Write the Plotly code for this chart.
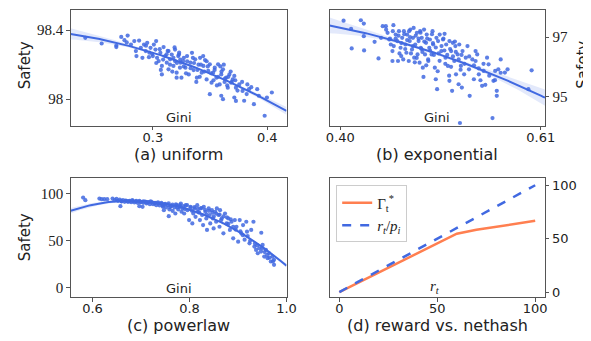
import numpy as np
import plotly.graph_objects as go

# ---------------- data ----------------
uniform_pts = [
    (0.2410, 98.356), (0.2553, 98.323), (0.2681, 98.311), (0.2681, 98.302), (0.2724, 98.361),
    (0.2752, 98.342), (0.2780, 98.369), (0.2772, 98.329), (0.2809, 98.317), (0.2838, 98.337),
    (0.2852, 98.279), (0.2857, 98.250), (0.2880, 98.340), (0.2895, 98.298), (0.2909, 98.240),
    (0.2923, 98.317), (0.2938, 98.279), (0.2951, 98.327), (0.2966, 98.244), (0.2980, 98.298),
    (0.2994, 98.263), (0.3009, 98.317), (0.3023, 98.288), (0.3029, 98.337), (0.3037, 98.240),
    (0.3051, 98.221), (0.3066, 98.269), (0.3079, 98.193), (0.3079, 98.144), (0.3094, 98.302),
    (0.3108, 98.250), (0.3122, 98.212), (0.3137, 98.279), (0.3137, 98.173), (0.3151, 98.231),
    (0.3165, 98.259), (0.3180, 98.193), (0.3194, 98.288), (0.3194, 98.221), (0.3208, 98.154),
    (0.3222, 98.250), (0.3237, 98.183), (0.3250, 98.125), (0.3265, 98.221), (0.3208, 98.125),
    (0.3228, 98.259), (0.3242, 98.212), (0.3271, 98.240), (0.3285, 98.183), (0.3299, 98.250),
    (0.3314, 98.144), (0.3328, 98.212), (0.3342, 98.269), (0.3356, 98.169), (0.3370, 98.231),
    (0.3385, 98.125), (0.3399, 98.200), (0.3413, 98.240), (0.3427, 98.154), (0.3442, 98.193),
    (0.3456, 98.227), (0.3470, 98.115), (0.3484, 98.164), (0.3498, 98.202), (0.3513, 98.096),
    (0.3498, 98.029), (0.3527, 98.154), (0.3541, 98.183), (0.3556, 98.125), (0.3570, 98.202),
    (0.3584, 98.086), (0.3598, 98.144), (0.3613, 98.173), (0.3627, 98.100), (0.3641, 98.125),
    (0.3655, 98.067), (0.3669, 98.144), (0.3684, 98.096), (0.3698, 98.115), (0.3712, 98.135),
    (0.3726, 98.067), (0.3712, 98.010), (0.3726, 97.990), (0.3755, 98.086), (0.3784, 98.048),
    (0.3798, 97.991), (0.3826, 98.086), (0.3840, 98.058), (0.3883, 97.971), (0.3912, 98.058),
    (0.3926, 98.020), (0.3997, 98.010), (0.4040, 98.039), (0.3977, 97.904), (0.3598, 98.020),
    (0.3613, 98.000),
    (0.300, 98.25), (0.303, 98.21), (0.306, 98.29), (0.309, 98.23), (0.312, 98.26),
    (0.315, 98.20), (0.318, 98.24), (0.321, 98.21), (0.324, 98.23), (0.327, 98.19),
    (0.330, 98.22), (0.333, 98.18), (0.336, 98.21), (0.339, 98.17), (0.342, 98.20),
    (0.345, 98.16), (0.348, 98.19), (0.351, 98.15), (0.354, 98.17), (0.357, 98.13),
    (0.360, 98.16), (0.363, 98.12), (0.366, 98.13), (0.369, 98.10), (0.372, 98.11),
    (0.313, 98.28), (0.317, 98.16), (0.323, 98.27), (0.329, 98.15), (0.335, 98.24),
    (0.341, 98.13), (0.347, 98.22), (0.353, 98.11), (0.359, 98.19), (0.365, 98.08),
    (0.297, 98.27), (0.294, 98.31), (0.307, 98.17), (0.319, 98.30), (0.344, 98.25),
    (0.338, 98.10), (0.356, 98.08), (0.362, 98.20), (0.368, 98.16), (0.374, 98.05),
    (0.378, 98.10), (0.382, 98.03), (0.386, 98.07),
]

exponential_pts = [
    (0.4034, 97.556), (0.4113, 97.278), (0.4215, 97.569), (0.4246, 97.456), (0.4246, 97.033),
    (0.4119, 96.618), (0.4249, 96.551), (0.4359, 96.843), (0.4400, 96.283), (0.4426, 96.977),
    (0.4444, 97.369), (0.4477, 97.369), (0.4495, 97.144), (0.4512, 96.920), (0.4529, 96.752),
    (0.4556, 97.402), (0.4546, 96.531), (0.4546, 96.196), (0.4580, 97.087), (0.4597, 96.866),
    (0.4604, 96.196), (0.4614, 97.201), (0.4631, 96.642), (0.4638, 96.363), (0.4648, 96.977),
    (0.4659, 96.250), (0.4666, 97.201), (0.4682, 96.752), (0.4692, 96.474), (0.4700, 97.087),
    (0.4717, 96.196), (0.4727, 96.866), (0.4733, 97.255), (0.4751, 96.585), (0.4761, 96.977),
    (0.4768, 97.312), (0.4774, 96.307), (0.4785, 96.752), (0.4802, 97.144), (0.4809, 96.418),
    (0.4820, 96.866), (0.4830, 96.139), (0.4836, 97.201), (0.4843, 96.642), (0.4853, 96.977),
    (0.4864, 95.972), (0.4871, 95.660), (0.4877, 97.255), (0.4887, 96.418), (0.4898, 96.809),
    (0.4905, 97.087), (0.4922, 96.196), (0.4932, 96.642), (0.4938, 96.920), (0.4956, 96.418),
    (0.4966, 97.201), (0.4973, 96.752), (0.4990, 95.972), (0.5000, 95.580), (0.5007, 96.977),
    (0.5014, 95.245), (0.5024, 96.866), (0.5041, 97.087), (0.5058, 96.531), (0.5076, 96.920),
    (0.5092, 97.111), (0.5102, 96.307), (0.5109, 96.752), (0.5127, 96.029), (0.5143, 96.866),
    (0.5143, 95.526), (0.5161, 96.531), (0.5171, 95.191), (0.5178, 96.809), (0.5194, 96.196),
    (0.5205, 96.698), (0.5212, 95.747), (0.5229, 96.418), (0.5239, 95.412), (0.5246, 96.752),
    (0.5263, 96.029), (0.5273, 95.301), (0.5280, 96.531), (0.5297, 95.747), (0.5314, 96.307),
    (0.5332, 96.698), (0.5348, 95.915), (0.5355, 95.023), (0.5383, 96.250), (0.5399, 95.580),
    (0.5417, 96.531), (0.5434, 96.418), (0.5451, 95.747), (0.5468, 95.546), (0.5485, 95.358),
    (0.5519, 95.392), (0.5537, 96.307), (0.5553, 96.082), (0.5502, 95.861), (0.5604, 95.526),
    (0.5622, 95.861), (0.5639, 95.191), (0.5639, 95.023), (0.5655, 95.915), (0.5680, 96.250),
    (0.5724, 95.804), (0.5752, 95.915), (0.5594, 94.273), (0.5253, 94.106), (0.6004, 95.881),
    (0.5970, 95.245), (0.5417, 96.196),
    (0.455, 97.20), (0.458, 96.95), (0.461, 97.05), (0.464, 96.80), (0.467, 97.10),
    (0.470, 96.90), (0.473, 97.00), (0.476, 96.70), (0.479, 97.05), (0.482, 96.95),
    (0.485, 96.60), (0.488, 96.85), (0.491, 96.95), (0.494, 96.55), (0.497, 96.80),
    (0.500, 96.65), (0.503, 96.45), (0.506, 96.70), (0.509, 96.55), (0.512, 96.40),
    (0.515, 96.60), (0.518, 96.35), (0.521, 96.50), (0.524, 96.25), (0.527, 96.40),
    (0.530, 96.10), (0.468, 96.60), (0.474, 96.45), (0.480, 96.30), (0.486, 96.50),
    (0.492, 96.25), (0.498, 96.40), (0.504, 96.20), (0.510, 96.10), (0.516, 96.00),
    (0.462, 96.45), (0.456, 96.70), (0.452, 96.95), (0.448, 97.25), (0.472, 97.20),
    (0.484, 97.15), (0.496, 97.10), (0.508, 96.95), (0.520, 96.85), (0.478, 96.15),
    (0.490, 96.05), (0.502, 95.85), (0.514, 95.70), (0.526, 95.90), (0.535, 96.35),
    (0.540, 96.05), (0.545, 95.95), (0.550, 96.10), (0.556, 95.70), (0.562, 95.55),
    (0.568, 95.80),
]

powerlaw_pts = [
    (0.5806, 96.1), (0.5852, 93.3), (0.6142, 95.0), (0.6190, 94.4), (0.6243, 94.4),
    (0.6304, 94.4), (0.6413, 95.0), (0.6459, 93.3), (0.6494, 94.7), (0.6526, 92.6),
    (0.6561, 94.0), (0.6575, 86.9), (0.6595, 92.3), (0.6627, 93.3), (0.6662, 91.6),
    (0.6696, 92.6), (0.6728, 91.6), (0.6763, 92.6), (0.6797, 91.2), (0.6830, 92.3),
    (0.6864, 90.9), (0.6898, 91.9), (0.6931, 90.5), (0.6965, 92.6), (0.6965, 86.9),
    (0.7000, 91.2), (0.7032, 86.2), (0.7046, 90.5), (0.7087, 91.9), (0.7113, 89.8),
    (0.7153, 91.2), (0.7182, 89.1), (0.7222, 91.2), (0.7248, 89.1), (0.7289, 90.5),
    (0.7315, 88.0), (0.7356, 89.8), (0.7384, 87.7), (0.7424, 89.5), (0.7451, 86.3),
    (0.7471, 82.7), (0.7491, 88.8), (0.7518, 85.5), (0.7558, 88.0), (0.7572, 76.3),
    (0.7586, 83.4), (0.7627, 86.9), (0.7653, 81.9), (0.7693, 85.5), (0.7708, 79.1),
    (0.7734, 88.0), (0.7768, 83.4), (0.7801, 86.3), (0.7835, 81.0),
    (0.7821, 89.8), (0.7855, 84.5), (0.7890, 79.1), (0.7922, 88.0), (0.7957, 82.7),
    (0.7991, 72.1), (0.8023, 86.3), (0.8058, 68.5), (0.8078, 79.1), (0.8104, 84.5),
    (0.8124, 75.6), (0.8159, 88.0), (0.8173, 81.0), (0.8214, 72.1), (0.8226, 84.5),
    (0.8260, 77.5), (0.8280, 66.8), (0.8294, 86.3), (0.8327, 81.0), (0.8347, 73.9),
    (0.8361, 61.6), (0.8396, 84.5), (0.8416, 77.5), (0.8428, 68.5), (0.8462, 82.7),
    (0.8483, 73.9), (0.8497, 63.2), (0.8529, 81.0), (0.8549, 70.3), (0.8564, 84.5),
    (0.8598, 77.5), (0.8618, 65.0), (0.8630, 82.7), (0.8665, 73.9), (0.8699, 58.0),
    (0.8732, 79.1), (0.8766, 68.5), (0.8800, 73.9), (0.8833, 61.6), (0.8867, 70.3),
    (0.8901, 52.6), (0.8934, 72.1), (0.8968, 65.0), (0.9003, 49.1), (0.9035, 72.1),
    (0.9069, 58.0), (0.9104, 66.8), (0.9136, 51.2), (0.9171, 70.3), (0.9185, 59.7),
    (0.9237, 47.3), (0.9272, 61.6), (0.9318, 70.3), (0.9338, 43.8), (0.9373, 40.3),
    (0.9407, 36.7), (0.9440, 42.0), (0.9474, 38.5), (0.9508, 45.6), (0.9541, 33.2),
    (0.9575, 40.3), (0.9610, 31.4), (0.9642, 36.7), (0.9676, 27.9), (0.9711, 33.2),
    (0.9743, 24.4), (0.9480, 58.6), (0.9743, 29.7),
    (0.660, 92.0), (0.668, 93.0), (0.675, 92.0), (0.682, 93.5), (0.690, 92.5),
    (0.698, 91.5), (0.705, 92.0), (0.712, 91.0), (0.720, 92.0), (0.728, 90.0),
    (0.735, 91.0), (0.742, 90.5), (0.750, 89.5), (0.757, 90.0), (0.765, 88.5),
    (0.772, 89.0), (0.780, 88.0), (0.787, 87.0), (0.795, 88.0), (0.802, 85.5),
    (0.810, 86.0), (0.817, 84.0), (0.825, 85.0), (0.832, 83.0), (0.840, 82.0),
    (0.847, 80.0), (0.855, 79.0), (0.862, 78.0), (0.870, 76.0), (0.877, 75.0),
    (0.885, 73.0), (0.745, 87.5), (0.760, 86.0), (0.775, 85.5), (0.790, 84.0),
    (0.805, 82.0), (0.820, 80.0), (0.835, 78.0), (0.850, 76.0), (0.865, 72.0),
    (0.880, 68.0), (0.895, 62.0), (0.910, 56.0), (0.925, 50.0), (0.940, 45.0),
    (0.955, 38.0), (0.965, 32.0), (0.972, 28.0), (0.950, 42.0), (0.960, 35.0),
    (0.935, 47.0), (0.920, 55.0), (0.905, 60.0), (0.890, 65.0),
]

reward = [0, 10, 20, 30, 40, 50, 60, 70, 80, 90, 100]
gamma_star = [0, 9.3, 18.4, 27.4, 36.4, 45.4, 54.6, 58.3, 61.3, 64.0, 66.7]
reward_over_p = [0, 10, 20, 30, 40, 50, 60, 70, 80, 90, 100]

subtitles = ["(a) uniform", "(b) exponential", "(c) powerlaw", "(d) reward vs. nethash"]

# ---------------- styling ----------------
BLUE = "#4169E1"
ORANGE = "#FF7F50"
SPINE = "#555555"
SANS = "DejaVu Sans"
SERIF = "Liberation Serif"
ORIG_N = 500  # approx number of points in the original cloud (for band width)

XD_L = [61 / 591, 281.7 / 591]
XD_R = [325.7 / 591, 546 / 591]
YD_T = [1 - 118.3 / 341, 1 - 1.7 / 341]
YD_B = [1 - 291 / 341, 1 - 171 / 341]

ranges_x = {"a": [0.2282, 0.4168], "b": [0.3887, 0.6144], "c": [0.5549, 1.0], "d": [-5, 105]}
ranges_y = {"a": [97.847, 98.519], "b": [94.018, 97.925], "c": [-10.3, 117.0], "d": [-4.9, 106.8]}


def fit_band(pts, xr):
    x = np.array([p[0] for p in pts])
    y = np.array([p[1] for p in pts])
    X = np.vstack([x ** 2, x, np.ones_like(x)]).T
    beta, *_ = np.linalg.lstsq(X, y, rcond=None)
    resid = y - X @ beta
    s2 = resid @ resid / (len(x) - 3)
    cov = s2 * np.linalg.inv(X.T @ X) * len(x) / ORIG_N
    xs = np.linspace(xr[0], xr[1], 120)
    Xs = np.vstack([xs ** 2, xs, np.ones_like(xs)]).T
    yh = Xs @ beta
    se = np.sqrt(np.einsum("ij,jk,ik->i", Xs, cov, Xs))
    return xs, yh, yh - 1.96 * se, yh + 1.96 * se


fig = go.Figure()

panels = [("a", uniform_pts, "x", "y"), ("b", exponential_pts, "x2", "y2"), ("c", powerlaw_pts, "x3", "y3")]
for key, pts, xa, ya in panels:
    xs, yh, lo, hi = fit_band(pts, ranges_x[key])
    fig.add_trace(go.Scatter(x=list(xs) + list(xs[::-1]), y=list(hi) + list(lo[::-1]), fill="toself",
                             fillcolor="rgba(65,105,225,0.15)", line=dict(width=0), mode="lines",
                             hoverinfo="skip", showlegend=False, xaxis=xa, yaxis=ya))
    fig.add_trace(go.Scatter(x=[p[0] for p in pts], y=[p[1] for p in pts], mode="markers",
                             marker=dict(color=BLUE, size=4.2, opacity=0.85, line=dict(width=0)),
                             showlegend=False, xaxis=xa, yaxis=ya))
    fig.add_trace(go.Scatter(x=xs, y=yh, mode="lines", line=dict(color=BLUE, width=2),
                             showlegend=False, xaxis=xa, yaxis=ya))

fig.add_trace(go.Scatter(x=reward, y=gamma_star, mode="lines", line=dict(color=ORANGE, width=2.5),
                         name="Γ<sub>t</sub><sup>*</sup>", xaxis="x4", yaxis="y4"))
fig.add_trace(go.Scatter(x=reward, y=reward_over_p, mode="lines",
                         line=dict(color=BLUE, width=2.5, dash="dash"),
                         name="<i>r<sub>t</sub></i>/<i>p<sub>i</sub></i>", xaxis="x4", yaxis="y4"))


def xax(dom, rng, tv, tt, anchor):
    return dict(domain=dom, range=rng, tickvals=tv, ticktext=tt, anchor=anchor, showline=True,
                mirror=True, linecolor=SPINE, linewidth=1, ticks="outside", ticklen=3.5,
                tickcolor=SPINE, showgrid=False, zeroline=False, ticklabelstandoff=-4,
                tickfont=dict(family=SANS, size=13, color="#222"))


def yax(dom, rng, tv, tt, anchor, side, fam, size):
    return dict(domain=dom, range=rng, tickvals=tv, ticktext=tt, anchor=anchor, side=side,
                showline=True, mirror=True, linecolor=SPINE, linewidth=1, ticks="outside",
                ticklen=3.5, tickcolor=SPINE, showgrid=False, zeroline=False,
                tickfont=dict(family=fam, size=size, color="#222"))


fig.update_layout(
    width=591, height=341, margin=dict(l=0, r=0, t=0, b=0),
    paper_bgcolor="white", plot_bgcolor="white",
    xaxis=xax(XD_L, ranges_x["a"], [0.3, 0.4], ["0.3", "0.4"], "y"),
    yaxis=yax(YD_T, ranges_y["a"], [98.0, 98.4], ["98", "98.4"], "x", "left", SERIF, 15),
    xaxis2=xax(XD_R, ranges_x["b"], [0.40, 0.61], ["0.40", "0.61"], "y2"),
    yaxis2=yax(YD_T, ranges_y["b"], [95, 97], ["95", "97"], "x2", "right", SERIF, 15),
    xaxis3=xax(XD_L, ranges_x["c"], [0.6, 0.8, 1.0], ["0.6", "0.8", "1.0"], "y3"),
    yaxis3=yax(YD_B, ranges_y["c"], [0, 50, 100], ["0", "50", "100"], "x3", "left", SERIF, 15),
    xaxis4=xax(XD_R, ranges_x["d"], [0, 50, 100], ["0", "50", "100"], "y4"),
    yaxis4=yax(YD_B, ranges_y["d"], [0, 50, 100], ["0", "50", "100"], "x4", "right", SANS, 13),
    legend=dict(x=332.5 / 591, y=1 - 178.5 / 341, xanchor="left", yanchor="top",
                bordercolor="#cccccc", borderwidth=1, bgcolor="rgba(255,255,255,0.8)",
                font=dict(family=SERIF, size=15, color="#222"), tracegroupgap=0,
                itemwidth=30),
)

ann = []
# subtitles
for txt, cx, cy in [(subtitles[0], 171.3, 147), (subtitles[1], 435.9, 147),
                    (subtitles[2], 171.3, 319), (subtitles[3], 435.9, 319)]:
    ann.append(dict(text=txt, x=cx / 591, y=1 - cy / 341, xref="paper", yref="paper",
                    showarrow=False, font=dict(family=SANS, size=16, color="#222"),
                    xanchor="center", yanchor="middle"))
# inner axis labels
for txt, cx, cy, fam in [("Gini", 171.5, 110, SANS), ("Gini", 435.7, 110, SANS),
                         ("Gini", 171.5, 282, SANS), ("<i>r<sub>t</sub></i>", 434, 281, SERIF)]:
    ann.append(dict(text=txt, x=cx / 591, y=1 - cy / 341, xref="paper", yref="paper",
                    showarrow=False, font=dict(family=fam, size=13 if fam == SANS else 15, color="#222"),
                    xanchor="center", yanchor="middle"))
# Safety labels
for cx, cy in [(14, 58), (14, 231), (585, 57)]:
    ann.append(dict(text="Safety", x=cx / 591, y=1 - cy / 341, xref="paper", yref="paper",
                    showarrow=False, textangle=-90, font=dict(family=SANS, size=15, color="#222"),
                    xanchor="center", yanchor="middle"))
fig.update_layout(annotations=ann)

fig.write_html("out.html")
